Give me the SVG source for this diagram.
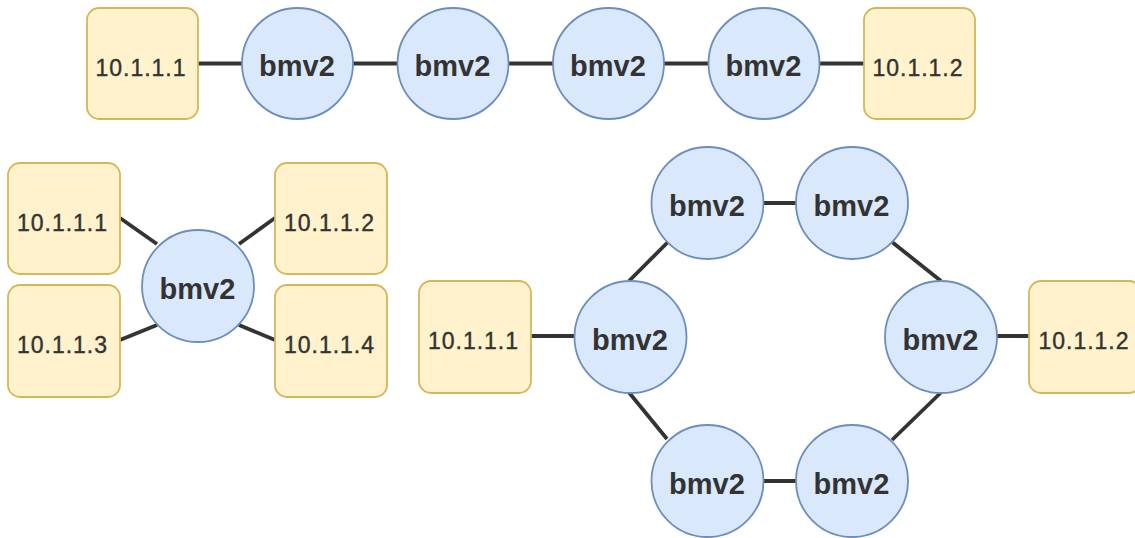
<svg xmlns="http://www.w3.org/2000/svg" width="1135" height="538" viewBox="0 0 1135 538">
<style>
.host{fill:#fff2cc;stroke:#d6b656;stroke-width:1.8}
.sw{fill:#dae8fc;stroke:#6c8ebf;stroke-width:1.8}
.ht{font-family:"Liberation Sans",Arial,sans-serif;font-size:23px;letter-spacing:1px;fill:#333333;stroke:#333333;stroke-width:0.4;text-anchor:middle}
.st{font-family:"Liberation Sans",Arial,sans-serif;font-size:29px;font-weight:bold;fill:#333333;text-anchor:middle}
.edges line{stroke:#333333;stroke-width:3.8;stroke-linecap:butt}
</style>
<rect width="1135" height="538" fill="#ffffff"/>
<g class="edges" id="connectors">
<line x1="198" y1="63.5" x2="242" y2="63.5"/>
<line x1="353" y1="63.5" x2="398" y2="63.5"/>
<line x1="508.5" y1="63.5" x2="553" y2="63.5"/>
<line x1="664" y1="63.5" x2="708.5" y2="63.5"/>
<line x1="819.5" y1="63.5" x2="864" y2="63.5"/>
<line x1="120" y1="218" x2="157" y2="244"/>
<line x1="239" y1="244" x2="275" y2="218"/>
<line x1="120" y1="340" x2="157" y2="325"/>
<line x1="239" y1="325" x2="275" y2="340"/>
<line x1="531" y1="336" x2="574.5" y2="336"/>
<line x1="629" y1="281" x2="668" y2="242"/>
<line x1="629" y1="392.5" x2="667" y2="439"/>
<line x1="763" y1="203" x2="796.5" y2="203"/>
<line x1="892" y1="242" x2="941" y2="281"/>
<line x1="941" y1="392.5" x2="892" y2="440"/>
<line x1="763" y1="481" x2="796.5" y2="481"/>
<line x1="996.5" y1="336" x2="1029" y2="336"/>
</g>
<g id="h1"><rect class="host" x="87" y="8" width="111" height="111" rx="12"/><text class="ht" x="141" y="75.5">10.1.1.1</text></g>
<g id="s1"><circle class="sw" cx="297.5" cy="63.5" r="55.5"/><text class="st" x="297" y="76">bmv2</text></g>
<g id="s2"><circle class="sw" cx="453" cy="63.5" r="55.5"/><text class="st" x="452.5" y="76">bmv2</text></g>
<g id="s3"><circle class="sw" cx="608.5" cy="63.5" r="55.5"/><text class="st" x="608" y="76">bmv2</text></g>
<g id="s4"><circle class="sw" cx="764" cy="63.5" r="55.5"/><text class="st" x="763.5" y="76">bmv2</text></g>
<g id="h2"><rect class="host" x="864" y="8" width="111" height="111" rx="12"/><text class="ht" x="918" y="75.5">10.1.1.2</text></g>

<g id="h3"><rect class="host" x="8" y="163" width="112" height="111" rx="12"/><text class="ht" x="62.5" y="231">10.1.1.1</text></g>
<g id="h4"><rect class="host" x="275" y="163" width="112" height="111" rx="12"/><text class="ht" x="329.5" y="231">10.1.1.2</text></g>
<g id="h5"><rect class="host" x="8" y="285" width="112" height="112" rx="12"/><text class="ht" x="62.5" y="353">10.1.1.3</text></g>
<g id="h6"><rect class="host" x="275" y="285" width="112" height="112" rx="12"/><text class="ht" x="329.5" y="353">10.1.1.4</text></g>
<g id="s5"><circle class="sw" cx="198" cy="286" r="56"/><text class="st" x="197.5" y="298.5">bmv2</text></g>

<g id="h7"><rect class="host" x="419" y="281" width="112" height="112" rx="12"/><text class="ht" x="473.5" y="349">10.1.1.1</text></g>
<g id="s6"><circle class="sw" cx="630.5" cy="337" r="56"/><text class="st" x="630" y="349.5">bmv2</text></g>
<g id="s7"><circle class="sw" cx="707.5" cy="203" r="56"/><text class="st" x="707" y="215.5">bmv2</text></g>
<g id="s8"><circle class="sw" cx="852" cy="203" r="56"/><text class="st" x="851.5" y="215.5">bmv2</text></g>
<g id="s9"><circle class="sw" cx="941" cy="337" r="56"/><text class="st" x="940.5" y="349.5">bmv2</text></g>
<g id="s10"><circle class="sw" cx="852" cy="481" r="56"/><text class="st" x="851.5" y="493.5">bmv2</text></g>
<g id="s11"><circle class="sw" cx="707.5" cy="481" r="56"/><text class="st" x="707" y="493.5">bmv2</text></g>
<g id="h8"><rect class="host" x="1029" y="281" width="112" height="112" rx="12"/><text class="ht" x="1084" y="349">10.1.1.2</text></g>
</svg>
